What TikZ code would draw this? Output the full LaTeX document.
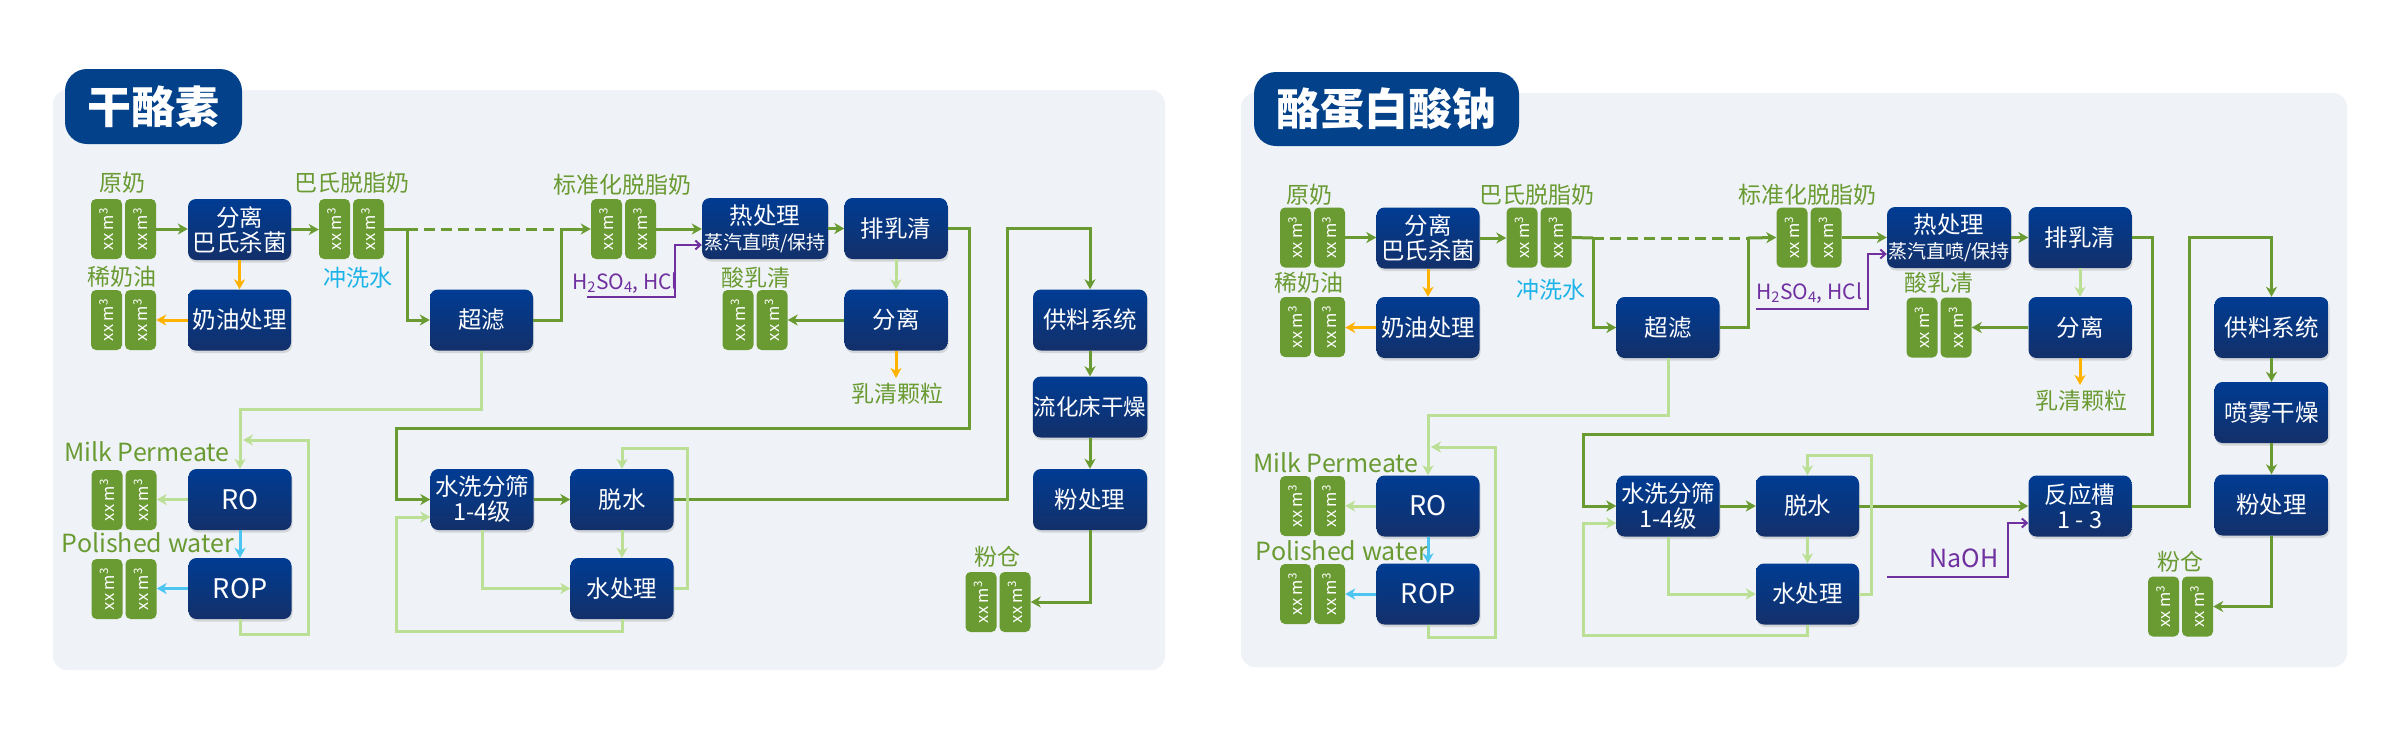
\documentclass[tikz,border=0pt]{standalone}
\usepackage{fontspec}
\setmainfont{Noto Sans CJK SC}
\usetikzlibrary{arrows.meta,shadows}
\definecolor{dkgreen}{HTML}{6A9A32}
\definecolor{ltgreen}{HTML}{BBDF95}
\definecolor{navy}{HTML}{03428A}
\definecolor{boxtop}{HTML}{003C93}
\definecolor{boxbot}{HTML}{13306A}
\definecolor{panelbg}{HTML}{EFF3F7}
\definecolor{orangeA}{HTML}{FFB300}
\definecolor{cyanA}{HTML}{4CC6F0}
\definecolor{cyanT}{HTML}{1CB3E8}
\definecolor{purpleA}{HTML}{7030A0}
\newcommand\tankpair[3]{%
  \node[tank] (#1a) at ({#2-17},#3) {};
  \node[tank] (#1b) at ({#2+17},#3) {};}
\begin{document}
\begin{tikzpicture}[x=1pt,y=-1pt,
  box/.style={rounded corners=8pt, top color=boxtop, bottom color=boxbot, text=white,
    minimum width=103pt, minimum height=61pt, inner sep=1pt, align=center,
    font=\fontsize{23.5}{25}\selectfont,
    drop shadow={opacity=0.25, shadow xshift=1pt, shadow yshift=-2.5pt}},
  titlebox/.style={fill=navy, rounded corners=22pt, text=white, inner sep=0pt,
    font=\bfseries\fontsize{44}{44}\selectfont},
  tanktxt/.style={rotate=90, text=white, inner sep=0pt, font=\fontsize{16.5}{16.5}\selectfont},
  tank/.style={fill=dkgreen, rounded corners=5pt, minimum width=31pt, minimum height=60pt,
    inner sep=0pt, label={[tanktxt]center:xx m\textsuperscript{3}}},
  lbl/.style={text=dkgreen, inner sep=0pt, font=\fontsize{23}{23}\selectfont},
  dk/.style={draw=dkgreen, line width=3pt},
  lt/.style={draw=ltgreen, line width=3pt},
  orl/.style={draw=orangeA, line width=3pt},
  cyl/.style={draw=cyanA, line width=3pt},
  pul/.style={draw=purpleA, line width=2pt},
  arr/.style={-{Stealth[length=10pt,width=11pt,inset=3pt]}},
  parr/.style={-{Straight Barb[length=5pt,width=9pt]}},
  dsh/.style={dash pattern=on 11pt off 6pt}
]
\useasboundingbox (0,0) rectangle (2386,737);
\fill[white] (0,0) rectangle (2386,737);

% ================= LEFT PANEL =================
\fill[panelbg, rounded corners=14pt] (53,90) rectangle (1165,670);
\node[titlebox, minimum width=177pt, minimum height=75pt] (tL) at (153.5,106.5) {干酪素};

\node[box] (sepL) at (239.5,229.5) {分离\\巴氏杀菌};
\node[box] (creamL) at (239.5,320) {奶油处理};
\node[box] (ufL) at (481.5,320) {超滤};
\node[box, minimum width=126pt] (heatL) at (765,228.5) {热处理\\{\fontsize{19}{21}\selectfont 蒸汽直喷/保持}};
\node[box] (drainL) at (896,228.5) {排乳清};
\node[box] (sep2L) at (896,320) {分离};
\node[box, minimum width=114pt] (feedL) at (1090,320) {供料系统};
\node[box, minimum width=114pt, font=\fontsize{22.5}{24}\selectfont] (dryL) at (1090,407) {流化床干燥};
\node[box, minimum width=114pt] (powL) at (1090,499.5) {粉处理};
\node[box] (washL) at (482,499.5) {水洗分筛\\1-4级};
\node[box] (dewL) at (622,499.5) {脱水};
\node[box] (watL) at (622,588.5) {水处理};
\node[box, font=\fontsize{27}{27}\selectfont] (roL) at (240,499.5) {RO};
\node[box, font=\fontsize{27}{27}\selectfont] (ropL) at (240,588.5) {ROP};

\tankpair{rawL}{123.5}{229}
\tankpair{crmtL}{123.5}{320}
\tankpair{skimL}{351.5}{229}
\tankpair{stdL}{623.5}{229}
\tankpair{acidL}{755}{320}
\tankpair{rotL}{124}{500}
\tankpair{roptL}{124}{589}
\tankpair{binL}{998}{602}

\node[lbl] (lL1) at (122,183) {原奶};
\node[lbl] (lL2) at (122,277) {稀奶油};
\node[lbl] (lL3) at (352,183) {巴氏脱脂奶};
\node[lbl, text=cyanT] (lL4) at (358,278) {冲洗水};
\node[lbl] (lL5) at (622,185) {标准化脱脂奶};
\node[lbl, text=purpleA, font=\fontsize{21}{21}\selectfont] (lL6) at (625,283) {H\textsubscript{2}SO\textsubscript{4}, HCl};
\node[lbl] (lL7) at (756,278) {酸乳清};
\node[lbl] (lL8) at (897,394) {乳清颗粒};
\node[lbl, font=\fontsize{25}{25}\selectfont] (lL9) at (147,452) {Milk Permeate};
\node[lbl, font=\fontsize{25}{25}\selectfont] (lL10) at (148,543) {Polished water};
\node[lbl] (lL11) at (997,557) {粉仓};

\coordinate (jL1) at (407,229);
\coordinate (jL2) at (561,229);
\coordinate (acL) at (587,297);
\coordinate (grL) at (896,378);
\coordinate (loopL) at (243,440);

\draw[dk,arr] (rawLb.east) -- (rawLb.east -| sepL.west);
\draw[dk,arr] (sepL.east) -- (sepL.east -| skimLa.west);
\draw[orl,arr] (sepL.south) -- (creamL.north);
\draw[orl,arr] (creamL.west) -- (creamL.west -| crmtLb.east);
\draw[dk] (skimLb.east) -- (jL1);
\draw[dk,dsh] (jL1) -- (jL2);
\draw[dk,arr] (jL2) -- (stdLa.west);
\draw[dk,arr] (jL1) |- (ufL.west);
\draw[dk] (ufL.east) -| (jL2);
\draw[dk,arr] (stdLb.east) -- (stdLb.east -| heatL.west);
\draw[pul,parr] (acL) -| (675,245) -- (heatL.west |- 0,245);
\draw[dk,arr] (heatL.east) -- (drainL.west);
\draw[lt,arr] (drainL.south) -- (sep2L.north);
\draw[dk,arr] (sep2L.west) -- (sep2L.west -| acidLb.east);
\draw[orl,arr] (sep2L.south) -- (grL);
\draw[dk,arr] (drainL.east) -| (969,428) -- (396,428) |- (washL.west);
\draw[dk,arr] (washL.east) -- (dewL.west);
\draw[dk,arr] (dewL.east) -| (1007,228) -| (feedL.north);
\draw[dk,arr] (feedL.south) -- (dryL.north);
\draw[dk,arr] (dryL.south) -- (powL.north);
\draw[dk,arr] (powL.south) |- (binLb.east);
\draw[lt,arr] (ufL.south) -- (481.5,409) -| (roL.north);
\draw[lt,arr] (roL.west) -- (roL.west -| rotLb.east);
\draw[cyl,arr] (roL.south) -- (ropL.north);
\draw[cyl,arr] (ropL.west) -- (ropL.west -| roptLb.east);
\draw[lt,arr] (ropL.south) -- (240,634) -| (308,440) -- (loopL);
\draw[lt,arr] (washL.south) |- (watL.west);
\draw[lt,arr] (dewL.south) -- (watL.north);
\draw[lt,arr] (watL.east) -| (687,448) -| (dewL.north);
\draw[lt,arr] (watL.south) -- (622,631) -| (396,517) -- (washL.west |- 0,517);

% ================= RIGHT PANEL =================
\fill[panelbg, rounded corners=14pt] (1241,93) rectangle (2347,667);
\node[titlebox, minimum width=265pt, minimum height=74pt] (tR) at (1386.5,109) {酪蛋白酸钠};

\node[box] (sepR) at (1428,238) {分离\\巴氏杀菌};
\node[box] (creamR) at (1428,327.5) {奶油处理};
\node[box] (ufR) at (1668,327.5) {超滤};
\node[box, minimum width=124pt] (heatR) at (1949,237.5) {热处理\\{\fontsize{19}{21}\selectfont 蒸汽直喷/保持}};
\node[box] (drainR) at (2080,237.5) {排乳清};
\node[box] (sep2R) at (2080,327.5) {分离};
\node[box, minimum width=114pt] (feedR) at (2271.5,327.5) {供料系统};
\node[box, minimum width=114pt] (sprayR) at (2271.5,412.5) {喷雾干燥};
\node[box, minimum width=114pt] (powR) at (2271.5,505) {粉处理};
\node[box] (reactR) at (2080,506) {反应槽\\1 - 3};
\node[box] (washR) at (1668,506) {水洗分筛\\1-4级};
\node[box] (dewR) at (1807.5,506) {脱水};
\node[box] (watR) at (1807.5,594) {水处理};
\node[box, font=\fontsize{27}{27}\selectfont] (roR) at (1428,506) {RO};
\node[box, font=\fontsize{27}{27}\selectfont] (ropR) at (1428,594) {ROP};

\tankpair{rawR}{1312.5}{237.5}
\tankpair{crmtR}{1312.5}{327}
\tankpair{skimR}{1539}{237.5}
\tankpair{stdR}{1809}{237.5}
\tankpair{acidR}{1939}{327.5}
\tankpair{rotR}{1312.5}{506}
\tankpair{roptR}{1312.5}{594}
\tankpair{binR}{2180.5}{606.5}

\node[lbl] (lR1) at (1309,195) {原奶};
\node[lbl] (lR2) at (1309,283) {稀奶油};
\node[lbl] (lR3) at (1537,195) {巴氏脱脂奶};
\node[lbl, text=cyanT] (lR4) at (1551,290) {冲洗水};
\node[lbl] (lR5) at (1807,195) {标准化脱脂奶};
\node[lbl, text=purpleA, font=\fontsize{21}{21}\selectfont] (lR6) at (1809,293) {H\textsubscript{2}SO\textsubscript{4}, HCl};
\node[lbl] (lR7) at (1939,283) {酸乳清};
\node[lbl] (lR8) at (2081,401) {乳清颗粒};
\node[lbl, font=\fontsize{25}{25}\selectfont] (lR9) at (1336,463) {Milk Permeate};
\node[lbl, font=\fontsize{25}{25}\selectfont] (lR10) at (1342,551) {Polished water};
\node[lbl] (lR11) at (2180,562) {粉仓};
\node[lbl, text=purpleA, font=\fontsize{25}{25}\selectfont] (lR12) at (1964,558) {NaOH};

\coordinate (jR1) at (1593,238);
\coordinate (jR2) at (1748,238);
\coordinate (acR) at (1756,309);
\coordinate (grR) at (2080,385);
\coordinate (loopR) at (1431,447);
\coordinate (naR) at (1887,577);

\draw[dk,arr] (rawRb.east) -- (rawRb.east -| sepR.west);
\draw[dk,arr] (sepR.east) -- (sepR.east -| skimRa.west);
\draw[orl,arr] (sepR.south) -- (creamR.north);
\draw[orl,arr] (creamR.west) -- (creamR.west -| crmtRb.east);
\draw[dk] (skimRb.east) -- (jR1);
\draw[dk,dsh] (jR1) -- (jR2);
\draw[dk,arr] (jR2) -- (stdRa.west);
\draw[dk,arr] (jR1) |- (ufR.west);
\draw[dk] (ufR.east) -| (jR2);
\draw[dk,arr] (stdRb.east) -- (stdRb.east -| heatR.west);
\draw[pul,parr] (acR) -| (1868,254) -- (heatR.west |- 0,254);
\draw[dk,arr] (heatR.east) -- (drainR.west);
\draw[lt,arr] (drainR.south) -- (sep2R.north);
\draw[dk,arr] (sep2R.west) -- (sep2R.west -| acidRb.east);
\draw[orl,arr] (sep2R.south) -- (grR);
\draw[dk,arr] (drainR.east) -| (2152,434) -- (1583,434) |- (washR.west);
\draw[dk,arr] (washR.east) -- (dewR.west);
\draw[dk,arr] (dewR.east) -- (reactR.west);
\draw[dk,arr] (reactR.east) -| (2189,237) -| (feedR.north);
\draw[dk,arr] (feedR.south) -- (sprayR.north);
\draw[dk,arr] (sprayR.south) -- (powR.north);
\draw[dk,arr] (powR.south) |- (binRb.east);
\draw[lt,arr] (ufR.south) -- (1668,415) -| (roR.north);
\draw[lt,arr] (roR.west) -- (roR.west -| rotRb.east);
\draw[cyl,arr] (roR.south) -- (ropR.north);
\draw[cyl,arr] (ropR.west) -- (ropR.west -| roptRb.east);
\draw[lt,arr] (ropR.south) -- (1428,637) -| (1495,447) -- (loopR);
\draw[lt,arr] (washR.south) |- (watR.west);
\draw[lt,arr] (dewR.south) -- (watR.north);
\draw[lt,arr] (watR.east) -| (1871,455) -| (dewR.north);
\draw[lt,arr] (watR.south) -- (1807.5,635) -| (1583,523) -- (washR.west |- 0,523);
\draw[pul,parr] (naR) -| (2008,523) -- (reactR.west |- 0,523);
\end{tikzpicture}
\end{document}
